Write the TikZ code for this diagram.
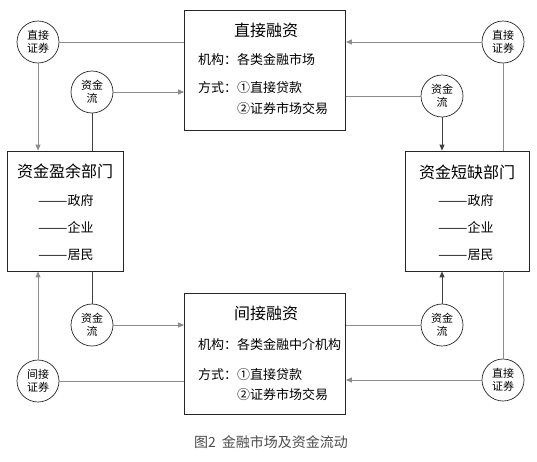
\documentclass[tikz,border=0pt]{standalone}
\usepackage{fontspec}
\setmainfont{Noto Sans CJK SC}
\usetikzlibrary{arrows.meta}
\newcommand{\ldash}{\scalebox{1.35}[1]{——}}
\begin{document}
\begin{tikzpicture}[x=1pt,y=-1pt,
  box/.style={draw=black!85, line width=0.8pt, inner sep=0pt},
  circ/.style={circle, draw=black!85, line width=0.7pt, minimum size=42pt, inner sep=0pt,
    font=\fontsize{11}{13}\selectfont, align=center},
  ttl/.style={inner sep=0pt, font=\fontsize{16}{18}\selectfont},
  txt/.style={inner sep=0pt, anchor=west, font=\fontsize{13}{15}\selectfont},
  gl/.style={draw=black!45, line width=1pt},
  dl/.style={draw=black!75, line width=1pt},
  arr/.style={-{Triangle[length=6pt,width=5pt]}}
]
\useasboundingbox[fill=white] (0,0) rectangle (537,461);

% boxes
\node[box, minimum width=161pt, minimum height=120pt] (top) at (265,70) {};
\node[box, minimum width=161pt, minimum height=121pt] (bot) at (265,353.5) {};
\node[box, minimum width=116pt, minimum height=120pt] (left) at (65,211) {};
\node[box, minimum width=124pt, minimum height=120pt] (right) at (467,211) {};

% top box text
\node[ttl] (t1) at (266,30) {直接融资};
\node[txt] (t2) at (198,60) {机构：各类金融市场};
\node[txt] (t3) at (198,88) {方式：①直接贷款};
\node[txt] (t4) at (237,109) {②证券市场交易};

% bottom box text
\node[ttl] (b1) at (266,313) {间接融资};
\node[txt] (b2) at (198,345) {机构：各类金融中介机构};
\node[txt] (b3) at (198,375) {方式：①直接贷款};
\node[txt] (b4) at (237,395) {②证券市场交易};

% left box text
\node[ttl] (l1) at (65,171) {资金盈余部门};
\node[txt] (l2) at (38,201) {\ldash 政府};
\node[txt] (l3) at (38,227) {\ldash 企业};
\node[txt] (l4) at (38,255) {\ldash 居民};

% right box text
\node[ttl] (r1) at (467,172) {资金短缺部门};
\node[txt] (r2) at (438,201) {\ldash 政府};
\node[txt] (r3) at (438,227) {\ldash 企业};
\node[txt] (r4) at (438,255) {\ldash 居民};

% circles
\node[circ] (tl) at (38,42) {直接\\证券};
\node[circ] (tlf) at (92,92) {资金\\流};
\node[circ] (tr) at (503,42) {直接\\证券};
\node[circ] (trf) at (442,96) {资金\\流};
\node[circ] (blf) at (92,325) {资金\\流};
\node[circ] (bl) at (38,381) {间接\\证券};
\node[circ] (brf) at (442,325) {资金\\流};
\node[circ] (br) at (503,380) {直接\\证券};

% connectors
\draw[gl] (tl) -- (tl -| top.west);
\draw[gl,arr] (tl) -- (tl |- left.north);
\draw[gl,arr] (tlf) -- (tlf -| top.west);
\draw[dl] (tlf) -- (tlf |- left.north);
\draw[gl,arr] (tr) -- (tr -| top.east);
\draw[gl] (tr) -- (tr |- right.north);
\draw[gl] (trf -| top.east) -- (trf);
\draw[dl,arr] (trf) -- (trf |- right.north);
\draw[dl] (blf |- left.south) -- (blf);
\draw[gl,arr] (blf) -- (blf -| bot.west);
\draw[gl] (bl) -- (bl -| bot.west);
\draw[gl,arr] (bl) -- (bl |- left.south);
\draw[gl] (brf -| bot.east) -- (brf);
\draw[dl,arr] (brf) -- (brf |- right.south);
\draw[gl,arr] (br) -- (br -| bot.east);
\draw[gl] (br) -- (br |- right.south);

% caption
\node[inner sep=0pt, text=black!70, font=\fontsize{14}{16}\selectfont] (cap) at (271,442) {图2\hspace{6pt}金融市场及资金流动};
\end{tikzpicture}
\end{document}
